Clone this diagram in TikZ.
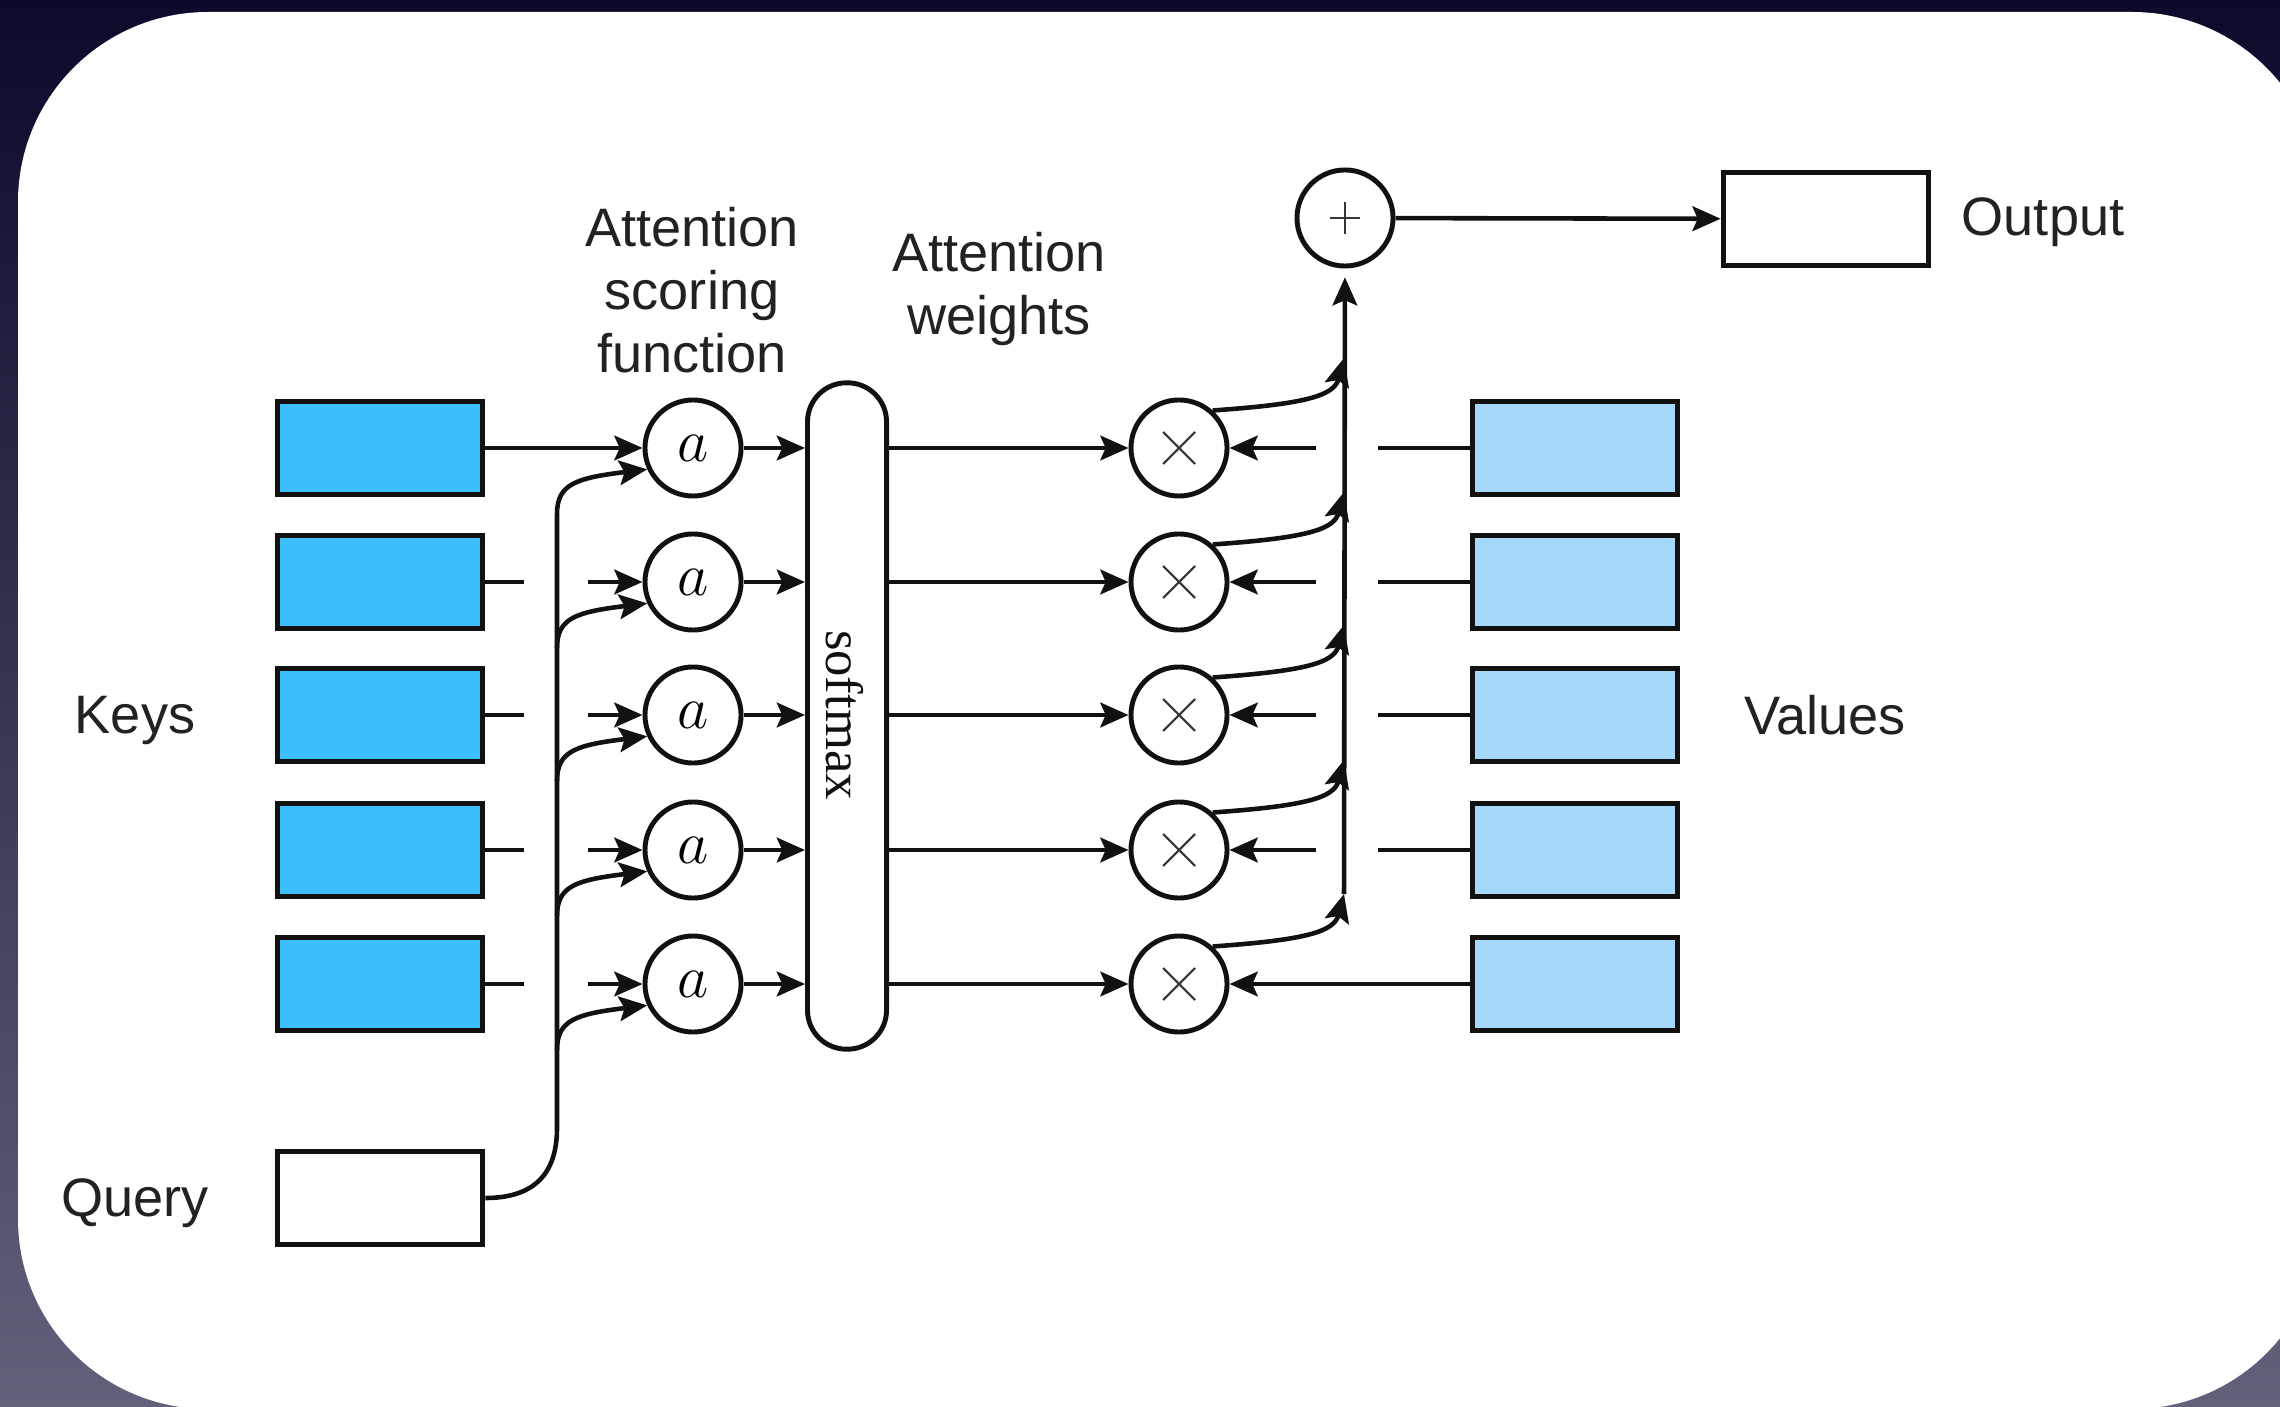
\documentclass[tikz,border=0pt]{standalone}
\usepackage{fontspec}
\setmainfont{Liberation Sans}
\newfontfamily\serifface{Liberation Serif}
\usetikzlibrary{arrows.meta}
\definecolor{keyfill}{HTML}{3BBEFC}
\definecolor{valfill}{HTML}{A6D8FB}
\definecolor{bgtop}{HTML}{0B0A2B}
\definecolor{bgmid}{HTML}{26253E}
\definecolor{bgbot}{HTML}{62617C}
\definecolor{ink}{HTML}{111111}
\definecolor{txt}{HTML}{222222}
\begin{document}
\begin{tikzpicture}[x=0.01cm,y=-0.01cm,
  vec/.style={draw=ink, line width=1.6pt, minimum width=2.05cm, minimum height=0.93cm, inner sep=0pt},
  keyvec/.style={vec, fill=keyfill},
  valvec/.style={vec, fill=valfill},
  op/.style={circle, draw=ink, line width=1.4pt, minimum size=0.96cm, inner sep=0pt, fill=white},
  score/.style={op, font=\fontsize{17}{17}\selectfont},
  mulop/.style={op, path picture={
      \draw[line width=0.6pt, ink!85]
        ([shift={(-16,-16)}]path picture bounding box.center) -- ([shift={(16,16)}]path picture bounding box.center)
        ([shift={(-16,16)}]path picture bounding box.center) -- ([shift={(16,-16)}]path picture bounding box.center);}},
  addop/.style={op, path picture={
      \draw[line width=0.6pt, ink!85]
        ([shift={(-15,0)}]path picture bounding box.center) -- ([shift={(15,0)}]path picture bounding box.center)
        ([shift={(0,-16)}]path picture bounding box.center) -- ([shift={(0,16)}]path picture bounding box.center);}},
  txtlbl/.style={text=txt, font=\fontsize{15.4}{17.9}\selectfont, align=center},
  conn/.style={draw=ink, line width=1.3pt},
  arr/.style={conn, -{Stealth[length=8pt,width=7pt,inset=1.5pt]}},
]
% frame and panel
\useasboundingbox (0,0) rectangle (2280,1407);
\shade[top color=bgtop, middle color=bgmid, bottom color=bgbot] (0,0) rectangle (2280,1407);
\fill[white, rounded corners=1.9cm] (18,12) rectangle (2322,1409);

% rows of keys, scoring functions, products and values
\foreach \i/\y in {1/448,2/582,3/715,4/850,5/984} {
  \node[keyvec] (k\i) at (380,\y) {};
  \node[score] (a\i) at (693,\y) {$a$};
  \node[mulop] (m\i) at (1179,\y) {};
  \node[valvec] (v\i) at (1575,\y) {};
}
\node[vec, fill=white] (q) at (380,1198) {};
\node[vec, fill=white] (out) at (1826,219) {};
\node[addop] (sum) at (1345,218) {};
\node[draw=ink, line width=1.4pt, rounded corners=0.39cm, minimum width=0.79cm,
      minimum height=6.66cm, fill=white, inner sep=0pt] (sm) at (847,716) {};
\node[rotate=-90, font=\serifface\fontsize{15}{15}\selectfont, text=ink] (smtxt) at (845,715) {softmax};

% labels
\node[txtlbl] (keys) at (135,720) {Keys};
\node[txtlbl] (query) at (135,1203) {Query};
\node[txtlbl] (values) at (1825,715) {Values};
\node[txtlbl] (output) at (2043,222) {Output};
\node[txtlbl] (asf) at (692,290) {Attention\\scoring\\function};
\node[txtlbl] (aw) at (999,289) {Attention\\weights};

% keys into the scoring functions
\draw[arr] (k1) -- (a1);
\foreach \i/\y in {2/582,3/715,4/850,5/984} {
  \coordinate (ke\i) at (524,\y);
  \coordinate (ks\i) at (588,\y);
  \draw[conn] (k\i) -- (ke\i);
  \draw[arr] (ks\i) -- (a\i);
}

% query fan-out
\foreach \i/\y in {1/448,2/582,3/715,4/850,5/984} {
  \coordinate (b\i) at (557,{\y+66});
  \draw[arr] (b\i) .. controls (557,{\y+36}) and (576,{\y+30}) .. (a\i.205);
}
\coordinate (qb) at (557,1128);
\draw[conn] (q.east) .. controls (532,1198) and (557,1176) .. (qb) -- (b1);

% scores through softmax to the products
\foreach \i in {1,...,5} {
  \draw[arr] (a\i) -- (a\i -| sm.west);
  \draw[arr] (m\i -| sm.east) -- (m\i);
}

% values into the products
\foreach \i/\y in {1/448,2/582,3/715,4/850} {
  \coordinate (vs\i) at (1378,\y);
  \coordinate (vt\i) at (1316,\y);
  \draw[conn] (v\i) -- (vs\i);
  \draw[arr] (vt\i) -- (m\i);
}
\draw[arr] (v5) -- (m5);

% weighted values summed
\foreach \i/\y in {1/448,2/582,3/715,4/850,5/984} {
  \coordinate (j\i) at (1344,{\y-90});
  \draw[arr] (m\i.48) .. controls (1305,{\y-44}) and (1334,{\y-52}) .. (j\i);
}
\draw[arr, shorten >=2.5pt] (j5) -- (sum);
\draw[arr] (sum) -- (out);
\end{tikzpicture}
\end{document}
